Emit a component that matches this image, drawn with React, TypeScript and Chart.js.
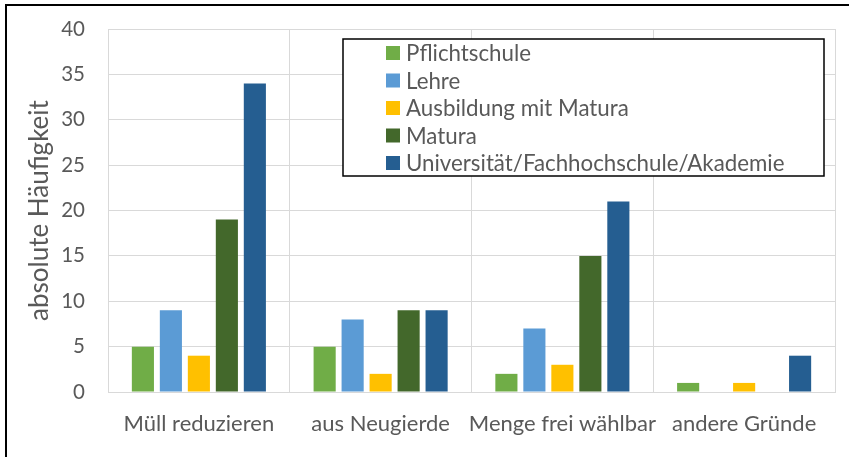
import React, { useEffect, useRef } from "react";
import { Chart, registerables } from "chart.js";

Chart.register(...registerables);

const categories = ["Müll reduzieren", "aus Neugierde", "Menge frei wählbar", "andere Gründe"];
const seriesNames = ["Pflichtschule", "Lehre", "Ausbildung mit Matura", "Matura", "Universität/Fachhochschule/Akademie"];
const seriesColors = ["#70AD47", "#5B9BD5", "#FFC000", "#43682B", "#255E91"];
const pflichtschule = [5, 5, 2, 1];
const lehre = [9, 8, 7, 0];
const ausbildungMitMatura = [4, 2, 3, 1];
const matura = [19, 9, 15, 0];
const universitaet = [34, 9, 21, 4];
const seriesValues = [pflichtschule, lehre, ausbildungMitMatura, matura, universitaet];
const yTitle = "absolute Häufigkeit";

const FONT = "Lato, 'Open Sans', sans-serif";
const TEXT = "#595959";

const legendBox = {
  id: "legendBox",
  afterDraw(chart: any) {
    const ctx = chart.ctx;
    ctx.save();
    const x0 = 343, y0 = 39, x1 = 824, y1 = 176;
    ctx.fillStyle = "#ffffff";
    ctx.fillRect(x0, y0, x1 - x0, y1 - y0);
    ctx.strokeStyle = "#000000";
    ctx.lineWidth = 1.5;
    ctx.strokeRect(x0, y0, x1 - x0, y1 - y0);
    ctx.font = `22.3px ${FONT}`;
    ctx.textBaseline = "middle";
    ctx.textAlign = "left";
    seriesNames.forEach((name, i) => {
      const cy = 53 + i * 27.5;
      ctx.fillStyle = seriesColors[i];
      ctx.fillRect(386, cy - 7, 14, 14);
      ctx.fillStyle = TEXT;
      ctx.fillText(name, 406, cy + 1);
    });
    ctx.restore();
  },
};

const frame = {
  id: "frame",
  beforeDraw(chart: any) {
    const ctx = chart.ctx;
    ctx.save();
    ctx.fillStyle = "#ffffff";
    ctx.fillRect(0, 0, chart.width, chart.height);
    ctx.strokeStyle = "#000000";
    ctx.lineWidth = 2;
    ctx.beginPath();
    ctx.moveTo(6, chart.height);
    ctx.lineTo(6, 5);
    ctx.lineTo(chart.width, 5);
    ctx.stroke();
    ctx.restore();
  },
};

export default function App() {
  const ref = useRef<HTMLCanvasElement>(null);
  useEffect(() => {
    document.body.style.margin = "0";
    const chart = new Chart(ref.current!, {
      type: "bar",
      data: {
        labels: categories,
        datasets: seriesNames.map((name, i) => ({
          label: name,
          data: seriesValues[i],
          backgroundColor: seriesColors[i],
          borderWidth: 0,
          categoryPercentage: 0.77,
          barPercentage: 0.79,
        })),
      },
      options: {
        animation: false,
        responsive: false,
        maintainAspectRatio: false,
        layout: { padding: { left: 0, top: 29, right: 14, bottom: 0 } },
        plugins: { legend: { display: false }, tooltip: { enabled: false } },
        scales: {
          x: {
            grid: { color: "#d9d9d9", lineWidth: 1, drawTicks: false, offset: true },
            border: { color: "#d9d9d9", width: 1 },
            ticks: { color: TEXT, font: { family: FONT, size: 22 }, padding: 19, maxRotation: 0, autoSkip: false },
            afterFit: (s: any) => { s.height = 65; s.paddingLeft = 0; s.paddingRight = 0; },
          },
          y: {
            min: 0,
            max: 40,
            ticks: { stepSize: 5, color: TEXT, font: { family: FONT, size: 20.5 }, padding: 23 },
            grid: { color: "#d9d9d9", lineWidth: 1, drawTicks: false },
            border: { color: "#d9d9d9", width: 1 },
            title: { display: true, text: yTitle, color: TEXT, font: { family: FONT, size: 26 }, padding: { top: 24, bottom: 0 } },
            afterFit: (s: any) => { s.width = 108; s.paddingTop = 0; s.paddingBottom = 0; },
          },
        },
      },
      plugins: [frame, legendBox],
    });
    return () => chart.destroy();
  }, []);
  return <canvas ref={ref} width={849} height={457} style={{ display: "block" }} />;
}
